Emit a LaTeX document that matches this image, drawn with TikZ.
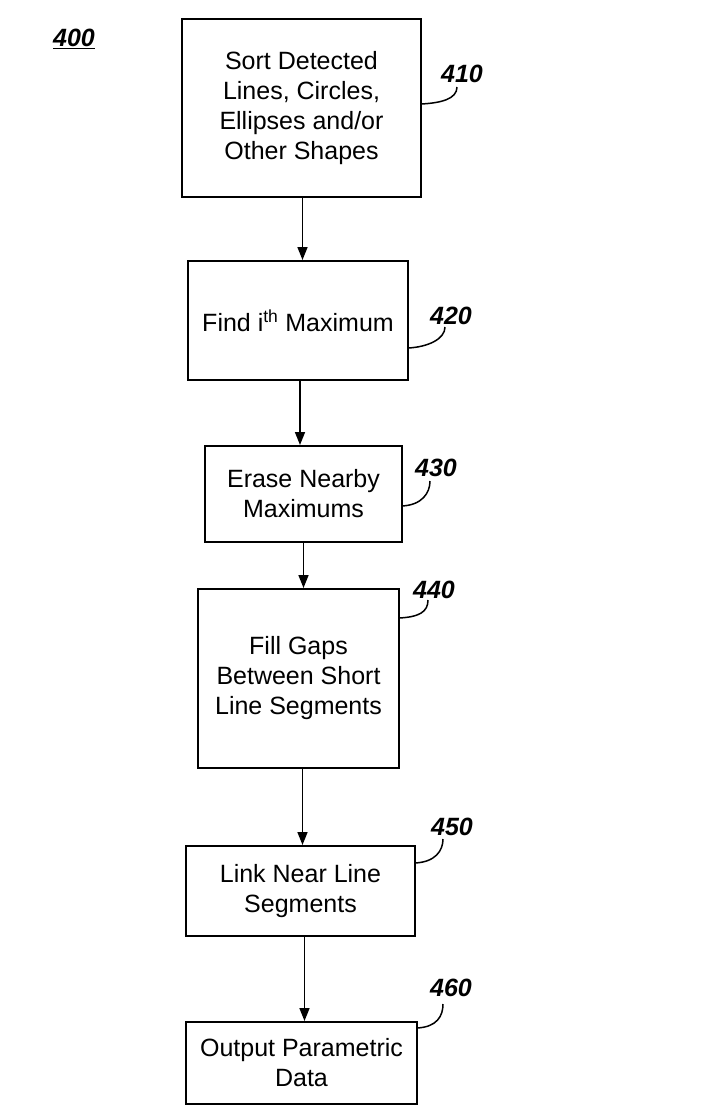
\documentclass[tikz,border=0pt]{standalone}
\usepackage{fontspec}
\setmainfont{Liberation Sans}
\usetikzlibrary{arrows.meta}
\begin{document}
\begin{tikzpicture}[x=1pt,y=-1pt,
  stepbox/.style={draw,line width=2pt,align=center,inner sep=0pt,
    font=\fontsize{25}{30}\selectfont},
  reflabel/.style={font=\fontsize{25}{28}\selectfont\bfseries\itshape,inner sep=0pt},
  arr/.style={line width=1.6pt,-{Triangle[length=13pt,width=10pt]}},
  lead/.style={line width=1.5pt}]
\useasboundingbox (0,0) rectangle (725,1119);
\fill[white] (0,0) rectangle (725,1119);

\node[reflabel] (l400) at (74,39) {\underline{400}};

\node[stepbox,minimum width=239pt,minimum height=178pt] (b410) at (301.5,108)
  {Sort Detected\\Lines, Circles,\\Ellipses and/or\\Other Shapes};
\node[stepbox,minimum width=220pt,minimum height=119pt] (b420) at (298,320.5)
  {Find i\textsuperscript{th} Maximum};
\node[stepbox,minimum width=197pt,minimum height=96pt] (b430) at (303.5,494)
  {Erase Nearby\\Maximums};
\node[stepbox,minimum width=201pt,minimum height=179pt] (b440) at (298.5,678.5)
  {Fill Gaps\\Between Short\\Line Segments};
\node[stepbox,minimum width=229pt,minimum height=90pt] (b450) at (300.5,891)
  {Link Near Line\\Segments};
\node[stepbox,minimum width=231pt,minimum height=82pt] (b460) at (301.5,1063)
  {Output Parametric\\Data};

\node[reflabel] (l410) at (462,74) {410};
\node[reflabel] (l420) at (451,316) {420};
\node[reflabel] (l430) at (436,468) {430};
\node[reflabel] (l440) at (434,590) {440};
\node[reflabel] (l450) at (452,827) {450};
\node[reflabel] (l460) at (451,988) {460};

\draw[arr] ([xshift=1pt]b410.south) -- ([xshift=1pt]b410.south |- b420.north);
\draw[arr] ([xshift=2pt]b420.south) -- ([xshift=2pt]b420.south |- b430.north);
\draw[arr] (b430.south) -- (b430.south |- b440.north);
\draw[arr] ([xshift=4pt]b440.south) -- ([xshift=4pt]b440.south |- b450.north);
\draw[arr] ([xshift=4pt]b450.south) -- ([xshift=4pt]b450.south |- b460.north);

\coordinate (s410) at (421,104); \coordinate (e410) at (457,87);
\coordinate (s420) at (408,348); \coordinate (e420) at (445,327);
\coordinate (s430) at (402,506); \coordinate (e430) at (430,481);
\coordinate (s440) at (399,618); \coordinate (e440) at (428,600);
\coordinate (s450) at (415,863); \coordinate (e450) at (443,839);
\coordinate (s460) at (417,1028); \coordinate (e460) at (443,1004);
\foreach \n in {410,420,430,440,450,460}{
  \draw[lead] (s\n) .. controls +(20,-1) and +(0,12) .. (e\n);
}
\end{tikzpicture}
\end{document}
